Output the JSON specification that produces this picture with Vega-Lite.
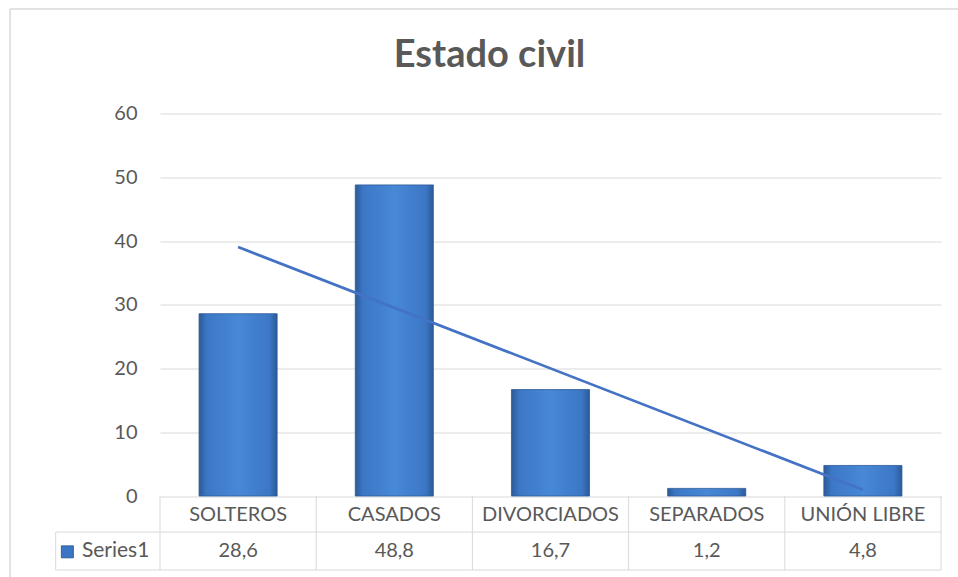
{
  "$schema": "https://vega.github.io/schema/vega-lite/v6.json",
  "autosize": "none",
  "padding": {"left": 160, "top": 113.5, "right": 17, "bottom": 7},
  "width": 781,
  "height": 456.5,
  "background": "white",
  "config": {
    "view": {"stroke": null},
    "font": "Lato",
    "locale": {"number": {"decimal": ",", "thousands": ".", "grouping": [3], "currency": ["", " €"]}}
  },
  "title": {"text": "Estado civil", "font": "Lato", "fontSize": 38, "fontWeight": "bold", "color": "#595959", "anchor": "middle", "frame": "group", "dx": -61, "offset": 0, "dy": 67},
  "datasets": {
    "t": [
      {"cat": "SOLTEROS", "idx": 1, "value": 28.6},
      {"cat": "CASADOS", "idx": 2, "value": 48.8},
      {"cat": "DIVORCIADOS", "idx": 3, "value": 16.7},
      {"cat": "SEPARADOS", "idx": 4, "value": 1.2},
      {"cat": "UNIÓN LIBRE", "idx": 5, "value": 4.8}
    ],
    "one": [{"k": 1}]
  },
  "data": {"name": "t"},
  "layer": [
    {
      "mark": {"type": "bar", "width": {"band": 0.5}, "stroke": "#2c5a96", "strokeWidth": 0.8,
        "color": {"gradient": "linear", "x1": 0, "x2": 1, "y1": 0, "y2": 0, "stops": [
          {"offset": 0, "color": "#2b5a98"}, {"offset": 0.1, "color": "#3c77c5"}, {"offset": 0.5, "color": "#4788d7"}, {"offset": 0.9, "color": "#3c77c5"}, {"offset": 1, "color": "#2b5a98"}]}},
      "encoding": {
        "x": {"field": "cat", "type": "nominal", "sort": null, "scale": {"paddingInner": 0, "paddingOuter": 0}, "axis": null},
        "y": {"field": "value", "type": "quantitative", "scale": {"domain": [-11.6, 60], "nice": false, "zero": false},
          "axis": {"values": [0, 10, 20, 30, 40, 50, 60], "grid": true, "gridColor": "#d9d9d9", "gridWidth": 1, "domain": false, "ticks": false, "tickSize": 0, "labelPadding": 23, "labelFont": "Lato", "labelFontSize": 20, "labelColor": "#595959", "title": null}},
        "y2": {"datum": 0}
      }
    },
    {
      "transform": [
        {"regression": "value", "on": "idx", "extent": [1, 5]},
        {"lookup": "idx", "from": {"data": {"name": "t"}, "key": "idx", "fields": ["cat"]}}
      ],
      "mark": {"type": "line", "color": "#4472c4", "strokeWidth": 2.75},
      "encoding": {
        "x": {"field": "cat", "type": "nominal", "sort": null},
        "y": {"field": "value", "type": "quantitative"}
      }
    },
    {
      "mark": {"type": "text", "font": "Lato", "fontSize": 20, "color": "#595959", "baseline": "middle"},
      "encoding": {
        "x": {"field": "cat", "type": "nominal", "sort": null},
        "y": {"datum": -2.95},
        "text": {"field": "cat"}
      }
    },
    {
      "mark": {"type": "text", "font": "Lato", "fontSize": 20, "color": "#595959", "baseline": "middle"},
      "encoding": {
        "x": {"field": "cat", "type": "nominal", "sort": null},
        "y": {"datum": -8.63},
        "text": {"field": "value", "format": ".1f"}
      }
    },
    {
      "mark": {"type": "rule", "color": "#d9d9d9", "strokeWidth": 1},
      "encoding": {
        "x": {"field": "cat", "type": "nominal", "sort": null, "bandPosition": 0},
        "y": {"datum": 0},
        "y2": {"datum": -11.6}
      }
    },
    {
      "data": {"name": "one"},
      "mark": {"type": "rule", "color": "#d9d9d9", "strokeWidth": 1},
      "encoding": {
        "x": {"datum": "UNIÓN LIBRE", "bandPosition": 1},
        "y": {"datum": 0},
        "y2": {"datum": -11.6}
      }
    },
    {
      "data": {"name": "one"},
      "mark": {"type": "rule", "color": "#d9d9d9", "strokeWidth": 1},
      "encoding": {
        "x": {"datum": "SOLTEROS", "bandPosition": -0.668},
        "x2": {"datum": "UNIÓN LIBRE", "bandPosition": 1},
        "y": {"datum": -5.65}
      }
    },
    {
      "data": {"name": "one"},
      "mark": {"type": "rule", "color": "#d9d9d9", "strokeWidth": 1},
      "encoding": {
        "x": {"datum": "SOLTEROS", "bandPosition": -0.668},
        "x2": {"datum": "UNIÓN LIBRE", "bandPosition": 1},
        "y": {"datum": -11.6}
      }
    },
    {
      "data": {"name": "one"},
      "mark": {"type": "rule", "color": "#d9d9d9", "strokeWidth": 1},
      "encoding": {
        "x": {"datum": "SOLTEROS", "bandPosition": -0.668},
        "y": {"datum": -5.65},
        "y2": {"datum": -11.6}
      }
    },
    {
      "data": {"name": "one"},
      "mark": {"type": "text", "font": "Lato", "fontSize": 21, "color": "#595959", "baseline": "middle", "align": "left"},
      "encoding": {
        "x": {"datum": "SOLTEROS", "bandPosition": -0.5},
        "y": {"datum": -8.63},
        "text": {"value": "Series1"}
      }
    },
    {
      "data": {"name": "one"},
      "mark": {"type": "point", "shape": "square", "filled": true, "size": 144, "fill": "#3b76c4", "stroke": "#1f4e8c", "strokeWidth": 0.8, "opacity": 1},
      "encoding": {
        "x": {"datum": "SOLTEROS", "bandPosition": -0.593},
        "y": {"datum": -8.75}
      }
    },
    {
      "data": {"name": "one"},
      "mark": {"type": "rule", "color": "#d9d9d9", "strokeWidth": 1.5},
      "encoding": {
        "x": {"datum": "SOLTEROS", "bandPosition": -0.96},
        "x2": {"datum": "UNIÓN LIBRE", "bandPosition": 1.3},
        "y": {"datum": 76.4}
      }
    },
    {
      "data": {"name": "one"},
      "mark": {"type": "rule", "color": "#d9d9d9", "strokeWidth": 1.5},
      "encoding": {
        "x": {"datum": "SOLTEROS", "bandPosition": -0.96},
        "y": {"datum": 76.4},
        "y2": {"datum": -13}
      }
    }
  ]
}
